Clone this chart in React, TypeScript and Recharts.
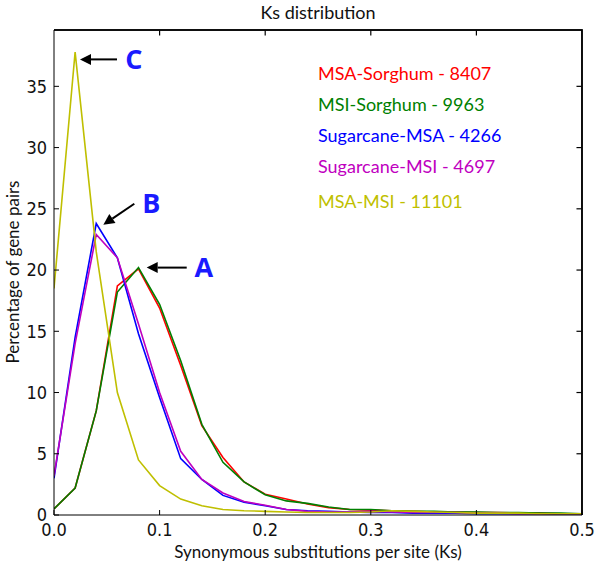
import React from 'react';
import {
  LineChart,
  Line,
  XAxis,
  YAxis,
  ReferenceDot,
} from 'recharts';

// Ks bins (step 0.02)
const ks = [
  0, 0.02, 0.04, 0.06, 0.08, 0.1, 0.12, 0.14, 0.16, 0.18, 0.2, 0.22, 0.24,
  0.26, 0.28, 0.3, 0.32, 0.34, 0.36, 0.38, 0.4, 0.42, 0.44, 0.46, 0.48, 0.5,
];

const msaSorghum = [
  0.5, 2.2, 8.5, 18.7, 20.1, 16.9, 12.2, 7.3, 4.7, 2.7, 1.7, 1.3, 0.9, 0.6,
  0.45, 0.4, 0.35, 0.3, 0.25, 0.25, 0.2, 0.2, 0.15, 0.15, 0.1, 0.1,
];
const msiSorghum = [
  0.5, 2.2, 8.5, 18.2, 20.2, 17.2, 12.6, 7.4, 4.3, 2.7, 1.65, 1.15, 0.95, 0.65,
  0.45, 0.45, 0.35, 0.3, 0.3, 0.25, 0.25, 0.2, 0.2, 0.15, 0.15, 0.1,
];
const sugarcaneMsa = [
  3.0, 14.5, 23.8, 21.0, 14.8, 9.6, 4.6, 2.9, 1.6, 1.05, 0.75, 0.45, 0.35, 0.3,
  0.25, 0.2, 0.2, 0.15, 0.15, 0.15, 0.1, 0.1, 0.1, 0.1, 0.05, 0.05,
];
const sugarcaneMsi = [
  3.2, 14.0, 22.9, 21.0, 15.6, 10.0, 5.2, 2.9, 1.8, 1.1, 0.8, 0.45, 0.3, 0.25,
  0.25, 0.3, 0.25, 0.2, 0.2, 0.2, 0.15, 0.15, 0.1, 0.1, 0.1, 0.1,
];
const msaMsi = [
  18.5, 37.8, 21.5, 10.0, 4.5, 2.4, 1.3, 0.75, 0.45, 0.35, 0.3, 0.25, 0.2, 0.2,
  0.2, 0.25, 0.35, 0.3, 0.25, 0.2, 0.15, 0.15, 0.15, 0.1, 0.1, 0.1,
];

const xTicks = [0, 0.1, 0.2, 0.3, 0.4, 0.5];
const yTicks = [0, 5, 10, 15, 20, 25, 30, 35];
const xMax = 0.5;
const yMax = 39.6;

const series = [
  { key: 'msaSorghum', name: 'MSA-Sorghum - 8407', color: '#ff0000', values: msaSorghum },
  { key: 'msiSorghum', name: 'MSI-Sorghum - 9963', color: '#008000', values: msiSorghum },
  { key: 'sugarcaneMsa', name: 'Sugarcane-MSA - 4266', color: '#0000ff', values: sugarcaneMsa },
  { key: 'sugarcaneMsi', name: 'Sugarcane-MSI - 4697', color: '#bf00bf', values: sugarcaneMsi },
  { key: 'msaMsi', name: 'MSA-MSI - 11101', color: '#bfbf00', values: msaMsi },
];

// arrow tip in data coords, tail/text offsets in px
const annotations = [
  { label: 'C', x: 0.0246, y: 37.2, dx: 37, dy: 0 },
  { label: 'B', x: 0.0467, y: 23.7, dx: 31, dy: -21 },
  { label: 'A', x: 0.0878, y: 20.2, dx: 40, dy: 0 },
];

const data = ks.map((k, i) => {
  const row: Record<string, number> = { ks: k };
  series.forEach((s) => {
    row[s.key] = s.values[i];
  });
  return row;
});

const tickFont = {
  fontFamily: '"Liberation Sans Narrow", "DejaVu Sans Condensed", sans-serif',
  fontSize: 18,
  fill: '#111',
};
const labelFont = '"Lato", "Open Sans", sans-serif';

const Arrow = ({ cx, cy, dx, dy, label }: any) => {
  const len = Math.sqrt(dx * dx + dy * dy);
  const ux = dx / len;
  const uy = dy / len;
  const head = 11;
  const hw = 5.5;
  const bx = cx + ux * head;
  const by = cy + uy * head;
  const pts = `${cx},${cy} ${bx - uy * hw},${by + ux * hw} ${bx + uy * hw},${by - ux * hw}`;
  return (
    <g>
      <line x1={bx} y1={by} x2={cx + dx} y2={cy + dy} stroke="#000" strokeWidth={2} />
      <polygon points={pts} fill="#000" />
      <text
        x={cx + dx + 17}
        y={cy + dy}
        dy="0.36em"
        textAnchor="middle"
        fontFamily='"Open Sans", sans-serif'
        fontWeight="bold"
        fontSize={27}
        fill="#1a1aff"
      >
        {label}
      </text>
    </g>
  );
};

// corner of the plot box: draws the top edge leftwards and the right edge downwards
const Corner = ({ cx, cy }: any) => (
  <polyline
    points={`${cx - 528},${cy} ${cx},${cy} ${cx},${cy + 485}`}
    fill="none"
    stroke="#000"
    strokeWidth={1.5}
  />
);

// short inward tick drawn from a point on the top or right edge
const EdgeTick = ({ cx, cy, side }: any) =>
  side === 'top' ? (
    <line x1={cx} y1={cy} x2={cx} y2={cy + 5} stroke="#000" strokeWidth={1.2} />
  ) : (
    <line x1={cx} y1={cy} x2={cx - 5} y2={cy} stroke="#000" strokeWidth={1.2} />
  );

const LegendBox = () => (
  <div
    style={{
      position: 'absolute',
      left: 318,
      top: 58,
      fontFamily: labelFont,
      fontSize: 18,
    }}
  >
    {series.map((s, i) => (
      <div
        key={s.key}
        style={{ color: s.color, lineHeight: '31px', marginTop: i === 4 ? 4 : 0, whiteSpace: 'nowrap' }}
      >
        {s.name}
      </div>
    ))}
  </div>
);

export default function App() {
  return (
    <div style={{ position: 'absolute', left: 0, top: 0, width: 600, height: 572, background: '#fff' }}>
      <LineChart
        width={600}
        height={572}
        data={data}
        margin={{ top: 30, right: 18, bottom: 0, left: 0 }}
        style={{ position: 'absolute', left: 0, top: 0 }}
      >
        <XAxis
          dataKey="ks"
          type="number"
          domain={[0, xMax]}
          ticks={xTicks}
          tickFormatter={(v: number) => v.toFixed(1)}
          height={57}
          tickSize={-5}
          tickMargin={13}
          stroke="#000"
          tick={tickFont}
          allowDataOverflow
        />
        <YAxis
          type="number"
          domain={[0, yMax]}
          ticks={yTicks}
          width={54}
          tickSize={-5}
          tickMargin={12}
          stroke="#000"
          tick={tickFont}
          allowDataOverflow
        />
        {series.map((s) => (
          <Line
            key={s.key}
            dataKey={s.key}
            name={s.name}
            stroke={s.color}
            strokeWidth={1.6}
            dot={false}
            type="linear"
            isAnimationActive={false}
          />
        ))}
        <ReferenceDot
          x={xMax * 0.999}
          y={yMax * 0.999}
          r={0}
          ifOverflow="visible"
          shape={(p: any) => <Corner cx={p.cx + 0.5} cy={p.cy - 0.5} />}
        />
        {xTicks.slice(1, -1).map((t) => (
          <ReferenceDot
            key={`tt-${t}`}
            x={t}
            y={yMax * 0.999}
            r={0}
            ifOverflow="visible"
            shape={(p: any) => <EdgeTick cx={p.cx} cy={p.cy} side="top" />}
          />
        ))}
        {yTicks.slice(1).map((t) => (
          <ReferenceDot
            key={`rt-${t}`}
            x={xMax * 0.999}
            y={t}
            r={0}
            ifOverflow="visible"
            shape={(p: any) => <EdgeTick cx={p.cx} cy={p.cy} side="right" />}
          />
        ))}
        {annotations.map((a) => (
          <ReferenceDot
            key={a.label}
            x={a.x}
            y={a.y}
            r={0}
            shape={(p: any) => <Arrow cx={p.cx} cy={p.cy} dx={a.dx} dy={a.dy} label={a.label} />}
          />
        ))}
      </LineChart>
      {/* top and right frame of the plot box, laid over the chart */}
      <svg
        width={600}
        height={572}
        style={{ position: 'absolute', left: 0, top: 0, pointerEvents: 'none' }}
      >
        <polyline points="54,30 582,30 582,515" fill="none" stroke="#000" strokeWidth={1.5} />
      </svg>
      <LegendBox />
      <div
        style={{
          position: 'absolute',
          left: 54,
          width: 528,
          top: 1,
          textAlign: 'center',
          fontFamily: labelFont,
          fontSize: 18,
          color: '#111',
        }}
      >
        Ks distribution
      </div>
      <div
        style={{
          position: 'absolute',
          left: 54,
          width: 528,
          top: 541,
          textAlign: 'center',
          fontFamily: labelFont,
          fontSize: 17,
          color: '#111',
        }}
      >
        Synonymous substitutions per site (Ks)
      </div>
      <div
        style={{
          position: 'absolute',
          left: 12,
          top: 272,
          transform: 'translate(-50%, -50%) rotate(-90deg)',
          whiteSpace: 'nowrap',
          fontFamily: labelFont,
          fontSize: 17,
          color: '#111',
        }}
      >
        Percentage of gene pairs
      </div>
    </div>
  );
}
